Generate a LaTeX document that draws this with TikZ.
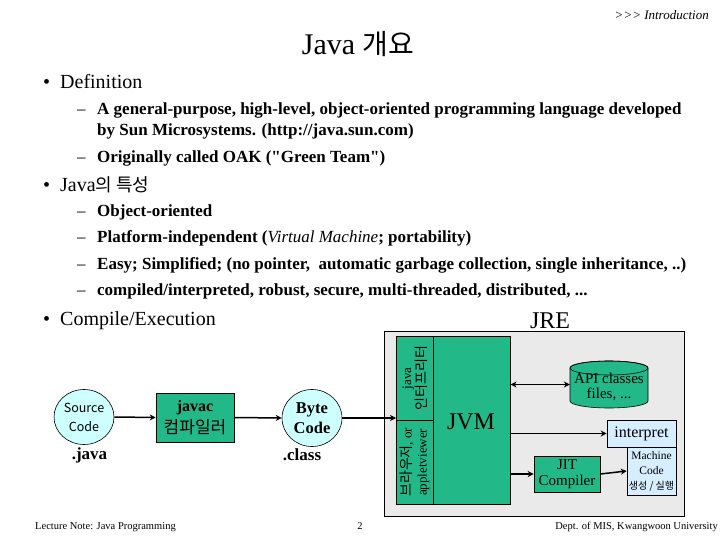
\documentclass[tikz,border=0pt]{standalone}
\usepackage{fontspec}
\setmainfont{Liberation Serif}
\newfontfamily\kr{Noto Sans CJK KR}
\usetikzlibrary{shapes.geometric,arrows.meta}
\definecolor{jgreen}{RGB}{34,184,136}
\definecolor{lcyan}{RGB}{206,255,255}
\definecolor{lblue}{RGB}{214,238,255}
\definecolor{jgray}{RGB}{234,234,234}
\newcommand{\fs}[2]{\fontsize{#1}{#2}\selectfont}
\begin{document}
\begin{tikzpicture}[x=1pt,y=-1pt,
  txt/.style={inner sep=0pt, anchor=base west},
  gbox/.style={draw=black, line width=0.6pt, fill=jgreen, inner sep=0pt, align=center},
  bbox/.style={draw=black, line width=0.6pt, fill=lblue, inner sep=0pt, align=center},
  ell/.style={ellipse, draw=black, line width=0.6pt, fill=lcyan, inner sep=0pt, align=center},
  conn/.style={line width=1.5pt, -{Stealth[length=6pt,width=6pt]}},
  dconn/.style={line width=1.5pt, {Stealth[length=6pt,width=6pt]}-{Stealth[length=6pt,width=6pt]}},
  lvlone/.style={txt, font=\fs{20}{24}},
  lvltwo/.style={txt, font=\fs{17}{20}\bfseries},
  dsh/.style={txt, font=\fs{17}{20}},
]
\useasboundingbox (0,0) rectangle (720,540);

% header
\node[inner sep=0, anchor=base east, font=\fs{13}{15}\itshape] (intro) at (709,20) {>{}>{}> Introduction};
\node[inner sep=0, anchor=base, font=\fs{30}{34}] (title) at (358,55) {Java {\kr\fs{28}{34}개요}};

% bullets
\node[lvlone] (b1) at (43,89) {•};
\node[lvlone] (t1) at (60,89) {Definition};
\node[dsh] (d1) at (77,115) {–};
\node[lvltwo] (t11) at (97,115) {A general-purpose, high-level, object-oriented programming language developed};
\node[lvltwo] (t12) at (97,136) {by Sun Microsystems. (http://java.sun.com)};
\node[dsh] (d2) at (77,163) {–};
\node[lvltwo] (t13) at (97,163) {Originally called OAK (\textquotedbl Green Team\textquotedbl)};

\node[lvlone] (b2) at (43,192) {•};
\node[lvlone] (t2) at (60,192) {Java{\kr\fs{18}{24}의 특성}};
\node[dsh] (d3) at (77,217) {–};
\node[lvltwo] (t21) at (97,217) {Object-oriented};
\node[dsh] (d4) at (77,243) {–};
\node[lvltwo] (t22) at (97,243) {Platform-independent (\textit{\mdseries Virtual Machine}; portability)};
\node[dsh] (d5) at (77,269) {–};
\node[lvltwo] (t23) at (97,269) {Easy; Simplified; (no pointer,\ \ automatic garbage collection, single inheritance, ..)};
\node[dsh] (d6) at (77,295) {–};
\node[lvltwo] (t24) at (97,295) {compiled/interpreted, robust, secure, multi-threaded, distributed, ...};

\node[lvlone] (b3) at (43,325) {•};
\node[lvlone] (t3) at (60,325) {Compile/Execution};
\node[inner sep=0, anchor=base, font=\fs{24}{28}] (jrelbl) at (550,328) {JRE};

% JRE box
\node[draw=black, line width=0.8pt, fill=jgray, minimum width=300, minimum height=185, anchor=north west, inner sep=0] (jre) at (384,331) {};
\node[gbox, minimum width=114, minimum height=168, anchor=north west] (jvm) at (396,336) {};
\node[gbox, minimum width=37, minimum height=84, anchor=north west] (jcell) at (396,336) {};
\node[gbox, minimum width=37, minimum height=84, anchor=north west] (bcell) at (396,420) {};
\node[rotate=90, align=center, inner sep=0, font=\fs{13}{15}] (jtext) at (jcell.center) {java\\{\kr\fs{14}{15}인터프리터}};
\node[rotate=90, align=center, inner sep=0, font=\fs{13}{15}] (btext) at (bcell.center) {{\kr\fs{14}{15}브라우저}, or\\appletviewer};
\node[inner sep=0, font=\fs{24}{28}] (jvmlbl) at (471,422) {JVM};

% API cylinder
\node[inner sep=0, minimum width=78, minimum height=47] (api) at (609,384.5) {};
\draw[fill=jgreen, line width=0.6pt] (570,368) -- (570,401) arc[start angle=180, end angle=0, x radius=39, y radius=7] -- (648,368) arc[start angle=0, end angle=-180, x radius=39, y radius=7] -- cycle;
\draw[line width=0.6pt] (609,368) ellipse[x radius=39, y radius=7];
\node[align=center, inner sep=0, font=\fs{15}{15}] (apitext) at (609,387) {API classes\\files, ...};

\node[bbox, minimum width=69, minimum height=27, font=\fs{16}{18}] (interp) at (641.5,433.5) {interpret};
\node[bbox, minimum width=49, minimum height=48, font=\fs{11.5}{15}] (mach) at (651.5,471) {Machine\\Code\\{\kr\fs{10}{15}생성 / 실행}};
\node[gbox, minimum width=66, minimum height=36, font=\fs{15}{16}] (jit) at (567,474) {JIT\\Compiler};

\draw[dconn] (jvm.east |- api.west) -- (api.west);
\draw[conn] (jvm.east |- interp.west) -- (interp.west);
\draw[conn] (jvm.east |- jit.west) -- (jit.west);
\draw[conn] (jit.east) -- (mach.west);

% compile chain
\node[ell, minimum width=60, minimum height=55, font=\kr\fs{12.5}{19}] (src) at (84,417) {Source\\Code};
\node[gbox, minimum width=78, minimum height=49, font=\fs{16}{22}] (javac) at (195,417.5) {\textbf{javac}\\{\kr\fs{17}{22}컴파일러}};
\node[ell, minimum width=60, minimum height=57, font=\fs{16.5}{20}\bfseries] (byte) at (312,418) {Byte\\Code};
\node[inner sep=0, font=\fs{17}{20}\bfseries] (javalbl) at (89.5,455) {.java};
\node[inner sep=0, font=\fs{17}{20}\bfseries] (classlbl) at (302,455) {.class};

\draw[conn] (src.east) -- (javac.west);
\draw[conn] (javac.east) -- (byte.west);
\draw[conn] (byte.east) -- (jvm.west |- byte.east);

% footer
\node[inner sep=0, anchor=base west, font=\fs{10.5}{12}] (foot1) at (35,529) {Lecture Note: Java Programming};
\node[inner sep=0, anchor=base, font=\fs{10.5}{12}] (foot2) at (360,529) {2};
\node[inner sep=0, anchor=base east, font=\fs{10.5}{12}] (foot3) at (718,529) {Dept. of MIS, Kwangwoon University};
\end{tikzpicture}
\end{document}
